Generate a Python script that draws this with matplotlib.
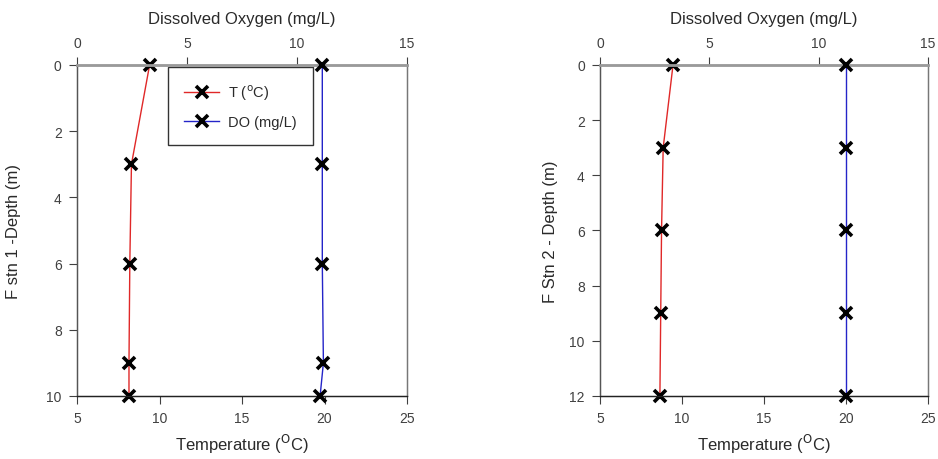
import matplotlib
matplotlib.use("Agg")
import matplotlib.pyplot as plt

plt.rcParams['font.family'] = ['Liberation Sans', 'DejaVu Sans']

# Station 1 profile
depth1 = [0, 3, 6, 9, 10]
temp1 = [9.4, 8.3, 8.2, 8.15, 8.15]
do1 = [11.15, 11.15, 11.15, 11.2, 11.05]

# Station 2 profile
depth2 = [0, 3, 6, 9, 12]
temp2 = [9.45, 8.85, 8.75, 8.7, 8.65]
do2 = [11.25, 11.25, 11.25, 11.25, 11.25]

temp_ticks = [5, 10, 15, 20, 25]
do_ticks = [0, 5, 10, 15]

fig = plt.figure(figsize=(9.38, 4.6), dpi=100)

panels = [
    (0.0821, 0.3518, depth1, temp1, do1, [0, 2, 4, 6, 8, 10], 10,
     "F stn 1 -Depth (m)", -0.170, True),
    (0.6397, 0.3497, depth2, temp2, do2, [0, 2, 4, 6, 8, 10, 12], 12,
     "F Stn 2 - Depth (m)", -0.128, False),
]

label_color = '#2a2a2a'
tick_color = '#404040'

for x0, w, depth, temp, do, yticks, ymax, ylabel, ylab_x, show_legend in panels:
    ax = fig.add_axes([x0, 0.137, w, 0.7196])
    ax2 = ax.twiny()

    lt, = ax.plot(temp, depth, color='#e02828', lw=1.0, marker='x', ms=9,
                  mew=2.6, mec='black', label='T ($^{\\mathrm{o}}$C)',
                  zorder=5, clip_on=False)
    ld, = ax2.plot(do, depth, color='#2424c8', lw=1.0, marker='x', ms=9,
                   mew=2.6, mec='black', label='DO (mg/L)',
                   zorder=5, clip_on=False)

    ax.set_xlim(5, 25)
    ax.set_xticks(temp_ticks)
    ax2.set_xlim(0, 15)
    ax2.set_xticks(do_ticks)
    ax.set_ylim(ymax, 0)
    ax.set_yticks(yticks)

    ax.set_xlabel('Temperature ($^{\\mathrm{O}}$C)', fontsize=12, color=label_color, labelpad=5)
    ax2.set_xlabel('Dissolved Oxygen (mg/L)', fontsize=12, color=label_color, labelpad=9)
    ax.set_ylabel(ylabel, fontsize=12, color=label_color)
    ax.yaxis.set_label_coords(ylab_x, 0.5)

    for a in (ax, ax2):
        a.tick_params(labelsize=10, colors=tick_color, length=6, width=0.8,
                      pad=5, direction='out')
        for s in a.spines.values():
            s.set_color('#555555')
            s.set_linewidth(0.9)
    ax2.spines['top'].set_color('#9a9a9a')
    ax2.spines['top'].set_linewidth(2.0)
    ax.spines['bottom'].set_color('#222222')
    ax2.spines['bottom'].set_color('#222222')
    ax.spines['right'].set_color('#777777')
    ax2.spines['right'].set_color('#777777')

    if show_legend:
        leg = ax.legend(handles=[lt, ld], loc='upper left', bbox_to_anchor=(0.276, 0.995),
                        fontsize=10.5, frameon=True, fancybox=False, borderpad=1.1,
                        handlelength=2.4, handletextpad=0.6, labelspacing=0.85,
                        borderaxespad=0)
        leg.get_frame().set_edgecolor('black')
        leg.get_frame().set_linewidth(1.0)
        for t in leg.get_texts():
            t.set_color(label_color)

fig.savefig('out.png', dpi=100)
